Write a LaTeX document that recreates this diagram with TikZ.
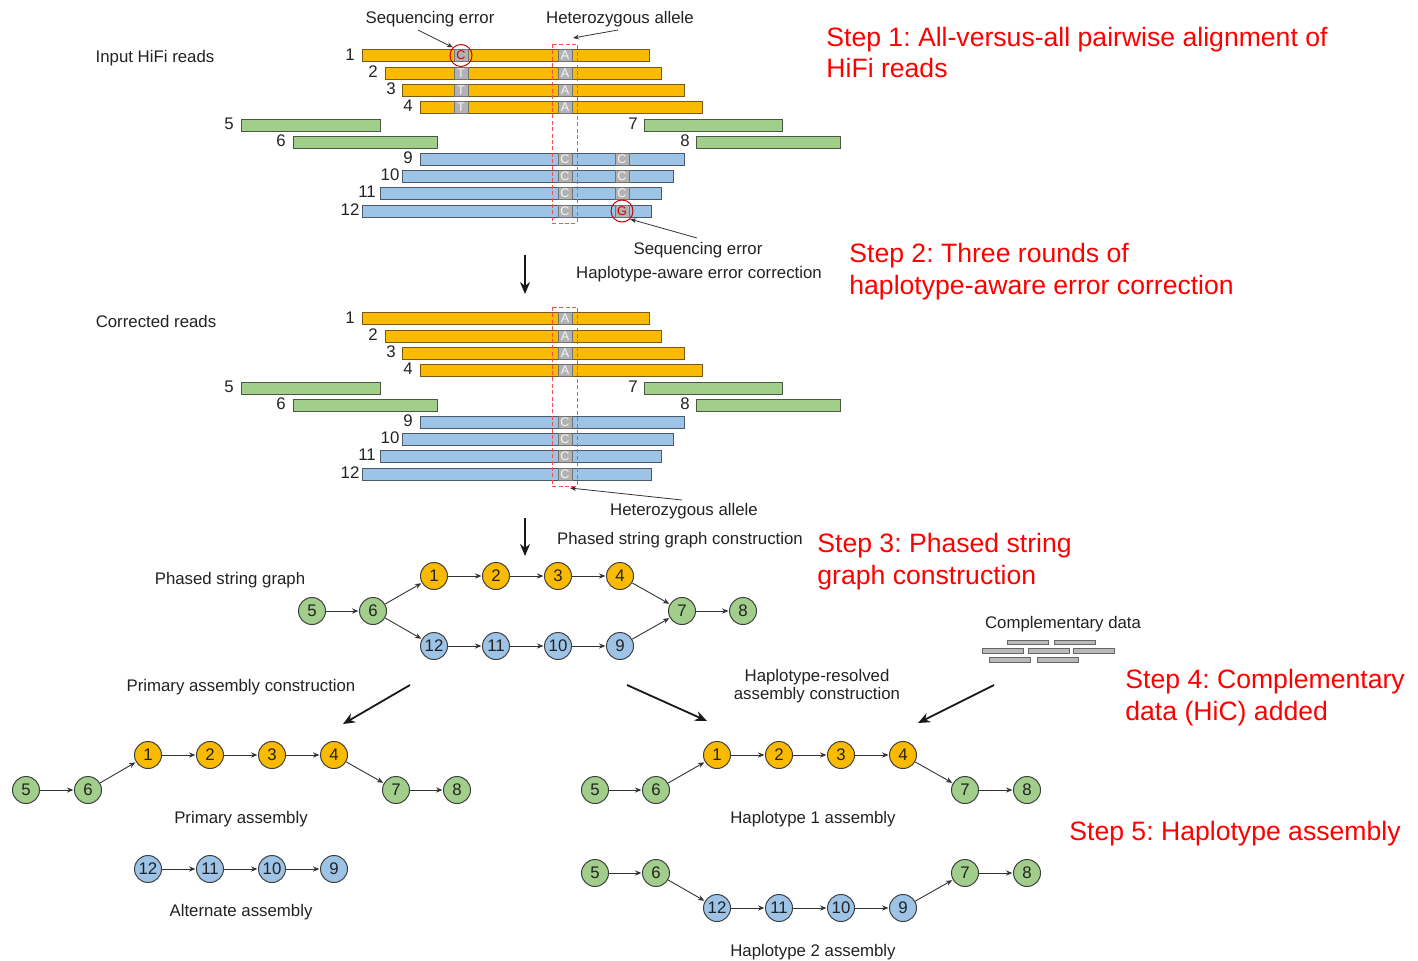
\documentclass[tikz,border=0pt]{standalone}
\usepackage{fontspec}
\setmainfont{Liberation Sans}
\usetikzlibrary{arrows.meta}
\definecolor{gold}{HTML}{F9BA00}
\definecolor{goldline}{HTML}{7A5A10}
\definecolor{grn}{HTML}{A1CE8B}
\definecolor{grnline}{HTML}{4A5A40}
\definecolor{blu}{HTML}{9DC3E6}
\definecolor{bluline}{HTML}{4A5A6A}
\definecolor{stepred}{HTML}{FF0000}
\definecolor{txt}{HTML}{222222}
\frenchspacing
\tikzset{
  lbl/.style={font=\fontsize{8.4}{10}\selectfont, text=txt, inner sep=0, yshift=-1pt},
  steptxt/.style={font=\fontsize{13.3}{16}\selectfont, text=stepred, anchor=base west, inner sep=0},
  gnode/.style={circle, draw=black!75, line width=0.5pt, minimum size=13.5pt, inner sep=0, font=\fontsize{8.4}{10}\selectfont, text=txt},
  yn/.style={gnode, fill=gold},
  gn/.style={gnode, fill=grn},
  bn/.style={gnode, fill=blu},
  edge/.style={-{Stealth[length=3.2pt,width=2.6pt]}, line width=0.45pt, draw=black!80, shorten >=0.3pt},
  bigarrow/.style={-{Stealth[length=6pt,width=5pt]}, line width=0.9pt, draw=black!90},
  pointer/.style={-{Stealth[length=3pt,width=2.4pt]}, line width=0.4pt, draw=black!80},
  rY/.style={fill=gold, draw=goldline, line width=0.5pt},
  rG/.style={fill=grn, draw=grnline, line width=0.5pt},
  rB/.style={fill=blu, draw=bluline, line width=0.5pt},
  base/.style={fill=gray!60, draw=black!55, line width=0.4pt, minimum width=7pt, minimum height=6pt, inner sep=0, text=white!92!gray, font=\fontsize{6.3}{6}\selectfont},
  dbox/.style={draw=red!70, line width=0.45pt, dash pattern=on 2pt off 1.2pt},
  errc/.style={draw=red!80!black, line width=0.5pt, circle, minimum size=11pt, inner sep=0},
  cbar/.style={fill=gray!55, draw=black!60, line width=0.4pt},
}
\newcommand\readbars[1]{%
  \foreach \xa/\xb/\yy/\lab/\lx in {362/649/55.5/1/350, 385/661/73/2/373, 402/684/90/3/391, 420/702/107/4/408}{
    \draw[rY] (\xa,\yy-6) rectangle (\xb,\yy+6);
    \node[lbl] (#1l\lab) at (\lx,\yy-3) {\lab};
  }
  \foreach \xa/\xb/\yy/\lab/\lx in {241/380/125/5/229, 293/437/142/6/281, 644/782/125/7/633, 696/840/142/8/685}{
    \draw[rG] (\xa,\yy-6) rectangle (\xb,\yy+6);
    \node[lbl] (#1l\lab) at (\lx,\yy-3) {\lab};
  }
  \foreach \xa/\xb/\yy/\lab/\lx in {420/684/159/9/408, 402/673/176/10/390, 380/661/193/11/367, 362/651/211/12/350}{
    \draw[rB] (\xa,\yy-6) rectangle (\xb,\yy+6);
    \node[lbl] (#1l\lab) at (\lx,\yy-3) {\lab};
  }
  \foreach \yy/\lab in {55.5/1, 73/2, 90/3, 107/4}{
    \node[base] (#1a\lab) at (565,\yy) {A};
  }
  \foreach \yy/\lab in {159/9, 176/10, 193/11, 211/12}{
    \node[base] (#1c\lab) at (565,\yy) {C};
  }
}
\begin{document}
\begin{tikzpicture}[x=0.5pt,y=-0.5pt]
\useasboundingbox (0,0) rectangle (1418,960);

% ---------------- Step 1 ----------------
\node[lbl] (inlab) at (155,56) {Input HiFi reads};
\readbars{s}
\node[base, text=red!80!black] (e1) at (461,55.5) {C};
\foreach \yy/\lab in {73/2, 90/3, 107/4}{ \node[base] (st\lab) at (461,\yy) {T}; }
\foreach \yy/\lab in {159/9, 176/10, 193/11}{ \node[base] (sc\lab) at (622,\yy) {C}; }
\node[base, text=red!80!black] (e2) at (622,211) {G};
\node[errc] (e1c) at (e1) {};
\node[errc] (e2c) at (e2) {};
\draw[dbox] (552,44) rectangle (577,223);
\node[lbl] (se1) at (430,17) {Sequencing error};
\node[lbl] (ha1) at (620,17) {Heterozygous allele};
\coordinate (se1t) at (418,30);
\coordinate (ha1t) at (618,30);
\draw[pointer] (se1t) -- (e1c.north west);
\draw[pointer] (ha1t) -- (573,38);
\node[lbl] (se2) at (698,248) {Sequencing error};
\coordinate (se2t) at (697,238);
\draw[pointer] (se2t) -- (e2c.south east);
\node[lbl] (hac) at (699,272) {Haplotype-aware error correction};
\coordinate (d1a) at (525,255);
\coordinate (d1b) at (525,294);
\draw[bigarrow] (d1a) -- (d1b);

% ---------------- Step 2 ----------------
\node[lbl] (corlab) at (156,319) {Corrected reads};
\begin{scope}[shift={(0,263)}]
\readbars{c}
\draw[dbox] (552,44) rectangle (577,223);
\end{scope}
\node[lbl] (ha2) at (684,509) {Heterozygous allele};
\coordinate (ha2t) at (682,500);
\draw[pointer] (ha2t) -- (570,488);
\coordinate (d2a) at (525,518);
\coordinate (d2b) at (525,556);
\draw[bigarrow] (d2a) -- (d2b);
\node[lbl] (psgc) at (680,538) {Phased string graph construction};

% ---------------- Step 3 graph ----------------
\node[lbl] (psg) at (230,578) {Phased string graph};
\node[gn] (a5) at (312,611) {5};
\node[gn] (a6) at (373,611) {6};
\node[yn] (a1) at (434,576) {1};
\node[yn] (a2) at (496,576) {2};
\node[yn] (a3) at (558,576) {3};
\node[yn] (a4) at (620,576) {4};
\node[bn] (a12) at (434,646) {12};
\node[bn] (a11) at (496,646) {11};
\node[bn] (a10) at (558,646) {10};
\node[bn] (a9) at (620,646) {9};
\node[gn] (a7) at (682,611) {7};
\node[gn] (a8) at (743,611) {8};
\foreach \u/\v in {a5/a6, a6/a1, a1/a2, a2/a3, a3/a4, a4/a7, a6/a12, a12/a11, a11/a10, a10/a9, a9/a7, a7/a8}{ \draw[edge] (\u) -- (\v); }

% ---------------- Complementary data ----------------
\node[lbl] (cd) at (1063,622) {Complementary data};
\draw[cbar] (1007,640) rectangle (1048,644);
\draw[cbar] (1054,640) rectangle (1095,644);
\draw[cbar] (982,648.5) rectangle (1023,653);
\draw[cbar] (1028,648.5) rectangle (1069,653);
\draw[cbar] (1073,648.5) rectangle (1114,653);
\draw[cbar] (989,657.5) rectangle (1030,662);
\draw[cbar] (1037,657.5) rectangle (1078,662);

% ---------------- construction arrows ----------------
\node[lbl] (pac) at (241,685) {Primary assembly construction};
\node[lbl, align=center] (hrc) at (817,684) {Haplotype-resolved\\[-1pt]assembly construction};
\coordinate (ar1a) at (410,685); \coordinate (ar1b) at (343,724);
\coordinate (ar2a) at (627,685); \coordinate (ar2b) at (707,721);
\coordinate (ar3a) at (994,685); \coordinate (ar3b) at (918,723);
\draw[bigarrow] (ar1a) -- (ar1b);
\draw[bigarrow] (ar2a) -- (ar2b);
\draw[bigarrow] (ar3a) -- (ar3b);

% ---------------- Primary assembly ----------------
\node[gn] (p5) at (26,790) {5};
\node[gn] (p6) at (88,790) {6};
\node[yn] (p1) at (148,755) {1};
\node[yn] (p2) at (210,755) {2};
\node[yn] (p3) at (272,755) {3};
\node[yn] (p4) at (334,755) {4};
\node[gn] (p7) at (396,790) {7};
\node[gn] (p8) at (457,790) {8};
\foreach \u/\v in {p5/p6, p6/p1, p1/p2, p2/p3, p3/p4, p4/p7, p7/p8}{ \draw[edge] (\u) -- (\v); }
\node[lbl] (pal) at (241,817) {Primary assembly};
\node[bn] (q12) at (148,869) {12};
\node[bn] (q11) at (210,869) {11};
\node[bn] (q10) at (272,869) {10};
\node[bn] (q9) at (334,869) {9};
\foreach \u/\v in {q12/q11, q11/q10, q10/q9}{ \draw[edge] (\u) -- (\v); }
\node[lbl] (aal) at (241,910) {Alternate assembly};

% ---------------- Haplotype 1 ----------------
\node[gn] (h5) at (595,790) {5};
\node[gn] (h6) at (656,790) {6};
\node[yn] (h1) at (717,755) {1};
\node[yn] (h2) at (779,755) {2};
\node[yn] (h3) at (841,755) {3};
\node[yn] (h4) at (903,755) {4};
\node[gn] (h7) at (965,790) {7};
\node[gn] (h8) at (1027,790) {8};
\foreach \u/\v in {h5/h6, h6/h1, h1/h2, h2/h3, h3/h4, h4/h7, h7/h8}{ \draw[edge] (\u) -- (\v); }
\node[lbl] (h1l) at (813,817) {Haplotype 1 assembly};

% ---------------- Haplotype 2 ----------------
\node[gn] (k5) at (595,873) {5};
\node[gn] (k6) at (656,873) {6};
\node[bn] (k12) at (717,908) {12};
\node[bn] (k11) at (779,908) {11};
\node[bn] (k10) at (841,908) {10};
\node[bn] (k9) at (903,908) {9};
\node[gn] (k7) at (965,873) {7};
\node[gn] (k8) at (1027,873) {8};
\foreach \u/\v in {k5/k6, k6/k12, k12/k11, k11/k10, k10/k9, k9/k7, k7/k8}{ \draw[edge] (\u) -- (\v); }
\node[lbl] (h2l) at (813,950) {Haplotype 2 assembly};

% ---------------- Step texts ----------------
\node[steptxt] (t1a) at (826,46.5) {Step 1: All-versus-all pairwise alignment of};
\node[steptxt] (t1b) at (826,77.5) {HiFi reads};
\node[steptxt] (t2a) at (849,262) {Step 2: Three rounds of};
\node[steptxt] (t2b) at (849,294) {haplotype-aware error correction};
\node[steptxt] (t3a) at (817,552) {Step 3: Phased string};
\node[steptxt] (t3b) at (817,584) {graph construction};
\node[steptxt] (t4a) at (1125,688) {Step 4: Complementary};
\node[steptxt] (t4b) at (1125,720) {data (HiC) added};
\node[steptxt] (t5) at (1069,840) {Step 5: Haplotype assembly};
\end{tikzpicture}
\end{document}
